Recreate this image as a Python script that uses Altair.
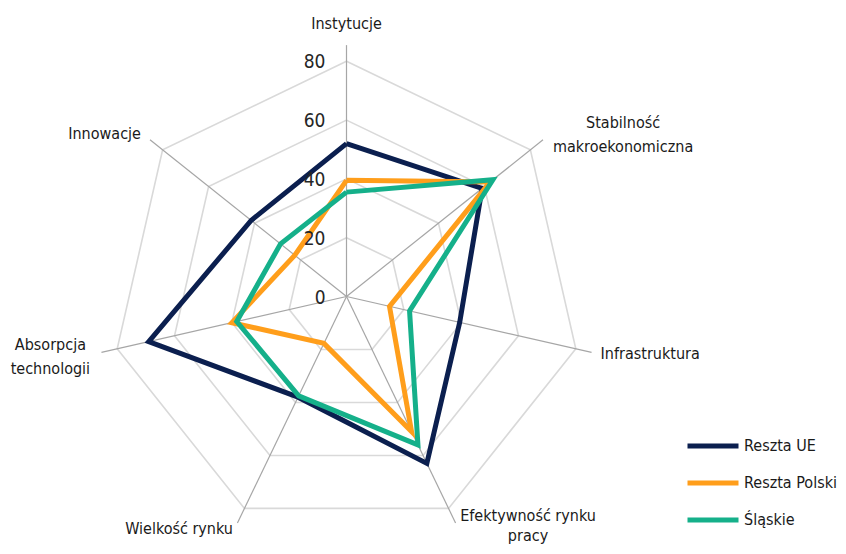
import math
import altair as alt
import pandas as pd

# ---------------- data ----------------
categories = ["Instytucje", "Stabilność makroekonomiczna", "Infrastruktura",
              "Efektywność rynku pracy", "Wielkość rynku", "Absorpcja technologii",
              "Innowacje"]
axis_labels = ["Instytucje", "Stabilność\nmakroekonomiczna", "Infrastruktura",
               "Efektywność rynku\npracy", "Wielkość rynku", "Absorpcja\ntechnologii",
               "Innowacje"]
series_names = ["Reszta UE", "Reszta Polski", "Śląskie"]
reszta_ue = [52.0, 59.0, 39.5, 63.0, 38.0, 69.0, 41.5]
reszta_polski = [39.5, 62.5, 15.0, 51.0, 17.7, 40.0, 22.5]
slaskie = [35.5, 63.7, 22.0, 56.0, 37.5, 38.3, 28.7]
grid_levels = [20, 40, 60, 80]
tick_values = [0, 20, 40, 60, 80]
colors = ["#0b1f4f", "#ff9e1b", "#15b08a"]

# ---------------- layout ----------------
W, H = 830, 538
CX, CY = 338.5, 288.5      # centre of the web in view pixels
K = 2.94                   # pixels per value unit
N = len(categories)
SPOKE_R = 85.5
LABEL_R = 89
FONT = "DejaVu Sans Condensed, sans-serif"
FS = 16
TXT = "#1a1a1a"

x_dom = [-CX / K, (W - CX) / K]
y_dom = [-(H - CY) / K, CY / K]
xs = alt.Scale(domain=x_dom, nice=False, zero=False)
ys = alt.Scale(domain=y_dom, nice=False, zero=False)

ANG = f"PI/2 - datum.i*2*PI/{N}"

# series table (closed polygons)
rows = []
for name, vals in zip(series_names, [reszta_ue, reszta_polski, slaskie]):
    for i in range(N + 1):
        rows.append({"series": name, "i": i, "value": vals[i % N]})
df_series = pd.DataFrame(rows)

rows = []
for lv in grid_levels:
    for i in range(N + 1):
        rows.append({"level": lv, "i": i, "value": lv})
df_grid = pd.DataFrame(rows)

df_spokes = pd.DataFrame({"i": list(range(N)), "r": [SPOKE_R] * N})
df_ticks = pd.DataFrame({"v": tick_values, "t": [str(t) for t in tick_values]})
df_labels = pd.DataFrame({"i": list(range(N)), "label": axis_labels, "r": [LABEL_R] * N})

X = lambda f: alt.X(f, type="quantitative", scale=xs, axis=None)
Y = lambda f: alt.Y(f, type="quantitative", scale=ys, axis=None)

grid = alt.Chart(df_grid).transform_calculate(
    ang=ANG, x=f"datum.value*cos({ANG})", y=f"datum.value*sin({ANG})"
).mark_line(color="#d9d9d9", strokeWidth=1.6).encode(
    x=X("x"), y=Y("y"), order="i:Q", detail="level:N"
)

spokes = alt.Chart(df_spokes).transform_calculate(
    x0="0", y0="0", xe=f"datum.r*cos({ANG})", ye=f"datum.r*sin({ANG})"
).mark_rule(color="#a6a6a6", strokeWidth=1.2).encode(
    x=X("x0"), y=Y("y0"), x2="xe:Q", y2="ye:Q"
)

ticks = alt.Chart(df_ticks).transform_calculate(x0="0").mark_text(
    align="right", baseline="middle", dx=-21, dy=1, font=FONT, fontSize=19, color="#262626"
).encode(x=X("x0"), y=Y("v"), text="t:N")

color_enc = alt.Color(
    "series:N",
    scale=alt.Scale(domain=series_names, range=colors),
    legend=alt.Legend(
        title=None, orient="none", legendX=677, legendY=428,
        symbolType="stroke", symbolSize=2601, symbolStrokeWidth=5,
        labelFont=FONT, labelFontSize=16, labelColor=TXT, labelOffset=3,
        rowPadding=17, clipHeight=20,
    ),
)

series_layers = []
for name in series_names:
    series_layers.append(
        alt.Chart(df_series).transform_filter(f"datum.series == '{name}'").transform_calculate(
            x=f"datum.value*cos({ANG})", y=f"datum.value*sin({ANG})"
        ).mark_line(strokeWidth=5, strokeJoin="miter").encode(
            x=X("x"), y=Y("y"), order="i:Q", color=color_enc
        )
    )

# per-label placement: (align, dx, dy, line height)
label_style = {
    0: ("center", 0, -11, 24),
    1: ("center", 72, -10, 24),
    2: ("left", -1, -1, 24),
    3: ("center", 68, -16, 20),
    4: ("right", 0, -3, 24),
    5: ("center", -41, -10, 24),
    6: ("right", -1, 1, 24),
}
label_layers = []
for k, (al, dx, dy, lh) in label_style.items():
    label_layers.append(
        alt.Chart(df_labels).transform_filter(f"datum.i == {k}").transform_calculate(
            x=f"datum.r*cos({ANG})", y=f"datum.r*sin({ANG})"
        ).mark_text(
            align=al, baseline="middle", dx=dx, dy=dy, font=FONT, fontSize=FS,
            color=TXT, lineBreak="\n", lineHeight=lh
        ).encode(x=X("x"), y=Y("y"), text="label:N")
    )

chart = alt.layer(grid, spokes, *series_layers, ticks, *label_layers).properties(
    width=W, height=H, padding=0, autosize=alt.AutoSizeParams(type="none"),
    background="white"
).configure_view(strokeWidth=0)

chart.save("out.html", embed_options={"renderer": "svg", "actions": False})
